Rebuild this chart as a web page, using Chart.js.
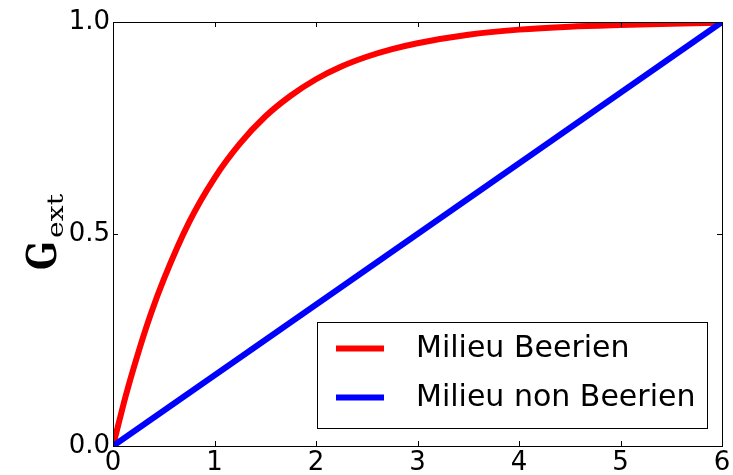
<!DOCTYPE html>
<html>
<head>
<meta charset="utf-8">
<script src="https://cdn.jsdelivr.net/npm/chart.js@4/dist/chart.umd.min.js"></script>
<style>
  html, body { margin: 0; padding: 0; background: #ffffff; }
  #wrap { width: 733px; height: 475px; }
</style>
</head>
<body>
<div id="wrap"><canvas id="c" width="733" height="475"></canvas></div>
<script>
// Optical depth sampled along the x axis
const redX = [0, 0.125, 0.25, 0.375, 0.5, 0.75, 1, 1.25, 1.5, 1.75, 2, 2.25, 2.5, 2.75, 3, 3.5, 4, 4.5, 5, 5.5, 6];
// Beer-Lambert medium
const redY = [0, 0.118, 0.221, 0.313, 0.393, 0.528, 0.632, 0.713, 0.777, 0.826, 0.865, 0.895, 0.918, 0.936, 0.950, 0.970, 0.982, 0.989, 0.993, 0.996, 0.998];
// Non Beer-Lambert medium
const blueX = [0, 6];
const blueY = [0, 1];

const seriesNames = ['Milieu Beerien', 'Milieu non Beerien'];
const seriesColors = ['#ff0000', '#0000ff'];
const xTickValues = [0, 1, 2, 3, 4, 5, 6];
const yTickValues = [0, 0.5, 1];
const yTickLabels = ['0.0', '0.5', '1.0'];

const toPoints = (xs, ys) => xs.map((x, i) => ({ x: x, y: ys[i] }));

const SANS = '"DejaVu Sans", "Liberation Sans", sans-serif';
const SERIF = '"DejaVu Serif", "Liberation Serif", serif';

// Frame with inward ticks on all four sides
const framePlugin = {
  id: 'frame',
  afterDatasetsDraw(chart) {
    const { ctx, chartArea: a, scales } = chart;
    const len = 5;
    ctx.save();
    ctx.strokeStyle = '#000000';
    ctx.lineWidth = 1;
    ctx.beginPath();
    xTickValues.forEach(v => {
      const px = Math.round(scales.x.getPixelForValue(v)) + 0.5;
      ctx.moveTo(px, a.bottom); ctx.lineTo(px, a.bottom - len);
      ctx.moveTo(px, a.top); ctx.lineTo(px, a.top + len);
    });
    yTickValues.forEach(v => {
      const py = Math.round(scales.y.getPixelForValue(v)) + 0.5;
      ctx.moveTo(a.left, py); ctx.lineTo(a.left + len, py);
      ctx.moveTo(a.right, py); ctx.lineTo(a.right - len, py);
    });
    ctx.stroke();
    ctx.strokeRect(Math.round(a.left) + 0.5, Math.round(a.top) + 0.5,
                   Math.round(a.right - a.left), Math.round(a.bottom - a.top));
    ctx.restore();
  }
};

// Legend box in the lower right corner of the plot
const legendPlugin = {
  id: 'boxLegend',
  afterDraw(chart) {
    const { ctx, chartArea: a } = chart;
    const right = a.right - 15, bottom = a.bottom - 18;
    const w = 390, h = 106;
    const left = right - w, top = bottom - h;
    ctx.save();
    ctx.fillStyle = '#ffffff';
    ctx.fillRect(left, top, w, h);
    ctx.strokeStyle = '#000000';
    ctx.lineWidth = 1;
    ctx.strokeRect(Math.round(left) + 0.5, Math.round(top) + 0.5, w, h);
    chart.data.datasets.forEach((ds, i) => {
      const y = top + 26.5 + i * 49;
      ctx.strokeStyle = ds.borderColor;
      ctx.lineWidth = 6;
      ctx.beginPath();
      ctx.moveTo(left + 19, y);
      ctx.lineTo(left + 67, y);
      ctx.stroke();
      ctx.fillStyle = '#000000';
      ctx.font = '30px ' + SANS;
      ctx.textAlign = 'left';
      ctx.textBaseline = 'middle';
      ctx.fillText(ds.label, left + 99, y + 0.5);
    });
    ctx.restore();
  }
};

// Vertical axis title: bold G with subscript "ext"
const yTitlePlugin = {
  id: 'yTitle',
  afterDraw(chart) {
    const { ctx, chartArea: a } = chart;
    const mid = (a.top + a.bottom) / 2;
    ctx.save();
    ctx.translate(56, mid + 36);
    ctx.rotate(-Math.PI / 2);
    ctx.fillStyle = '#000000';
    ctx.textAlign = 'left';
    ctx.textBaseline = 'alphabetic';
    ctx.font = 'bold 41px ' + SERIF;
    const gw = ctx.measureText('G').width;
    ctx.save();
    ctx.scale(29 / gw, 1);
    ctx.fillText('G', 0, 0);
    ctx.restore();
    ctx.font = '22px ' + SERIF;
    const ew = ctx.measureText('ext').width;
    ctx.save();
    ctx.translate(32, 7);
    ctx.scale(44 / ew, 1);
    ctx.fillText('ext', 0, 0);
    ctx.restore();
    ctx.restore();
  }
};

new Chart(document.getElementById('c'), {
  type: 'line',
  data: {
    datasets: [
      {
        label: seriesNames[0],
        data: toPoints(redX, redY),
        borderColor: seriesColors[0],
        backgroundColor: seriesColors[0],
        borderWidth: 6,
        pointRadius: 0,
        cubicInterpolationMode: 'monotone',
        clip: 0,
        order: 1
      },
      {
        label: seriesNames[1],
        data: toPoints(blueX, blueY),
        borderColor: seriesColors[1],
        backgroundColor: seriesColors[1],
        borderWidth: 6,
        pointRadius: 0,
        clip: 0,
        order: 0
      }
    ]
  },
  options: {
    responsive: false,
    animation: false,
    devicePixelRatio: 1,
    layout: { padding: { left: 0, right: 11, top: 22, bottom: 0 } },
    plugins: { legend: { display: false }, tooltip: { enabled: false } },
    scales: {
      x: {
        type: 'linear',
        min: 0, max: 6,
        afterBuildTicks(scale) { scale.ticks = xTickValues.map(v => ({ value: v })); },
        afterFit(scale) { scale.height = 29; },
        grid: { display: false, drawTicks: false },
        border: { display: false },
        ticks: {
          color: '#000000',
          padding: 2,
          maxRotation: 0,
          font: { family: SANS, size: 26 },
          callback: v => String(v)
        }
      },
      y: {
        type: 'linear',
        min: 0, max: 1,
        afterBuildTicks(scale) { scale.ticks = yTickValues.map(v => ({ value: v })); },
        afterFit(scale) { scale.width = 113; },
        grid: { display: false, drawTicks: false },
        border: { display: false },
        ticks: {
          color: '#000000',
          padding: 3,
          font: { family: SANS, size: 26 },
          callback: v => yTickLabels[yTickValues.indexOf(v)]
        }
      }
    }
  },
  plugins: [framePlugin, legendPlugin, yTitlePlugin]
});
</script>
</body>
</html>
